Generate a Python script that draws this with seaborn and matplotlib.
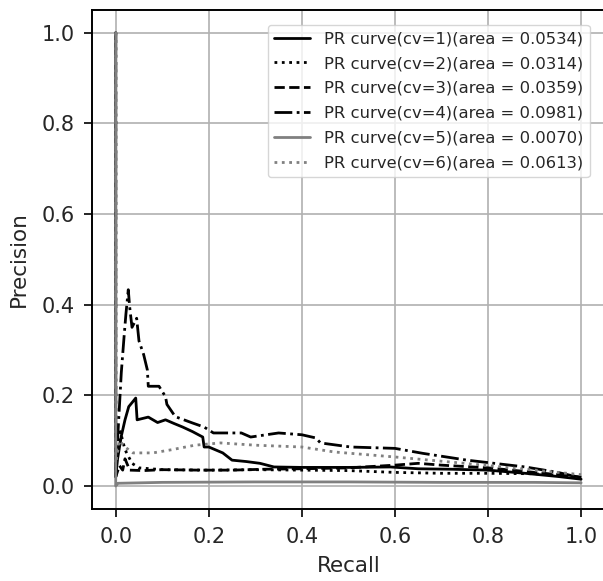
import numpy as np
import pandas as pd
import matplotlib
matplotlib.use("Agg")
import matplotlib.pyplot as plt
import seaborn as sns

# PR curves (recall, precision), one per fold
recall_cv1 = [0.0, 0.0, 0.004, 0.012, 0.020, 0.028, 0.036, 0.043, 0.046, 0.070, 0.090, 0.107,
              0.125, 0.144, 0.165, 0.187, 0.190, 0.200, 0.230, 0.250, 0.280, 0.310, 0.340,
              0.400, 0.500, 0.590, 0.650, 0.720, 0.800, 0.880, 0.950, 1.000]
precision_cv1 = [1.0, 0.02, 0.06, 0.11, 0.146, 0.175, 0.185, 0.194, 0.146, 0.152, 0.140, 0.146,
                 0.138, 0.130, 0.120, 0.108, 0.086, 0.086, 0.073, 0.057, 0.054, 0.050, 0.042,
                 0.041, 0.041, 0.042, 0.038, 0.037, 0.035, 0.028, 0.021, 0.015]

recall_cv2 = [0.0, 0.0, 0.005, 0.010, 0.020, 0.035, 0.050, 0.100, 0.200, 0.300, 0.400,
              0.500, 0.600, 0.700, 0.800, 0.900, 0.950, 1.000]
precision_cv2 = [1.0, 0.03, 0.09, 0.12, 0.08, 0.05, 0.040, 0.036, 0.035, 0.036, 0.035,
                 0.034, 0.030, 0.028, 0.028, 0.027, 0.024, 0.019]

recall_cv3 = [0.0, 0.0, 0.008, 0.015, 0.020, 0.030, 0.060, 0.100, 0.180, 0.250, 0.320,
              0.400, 0.500, 0.600, 0.650, 0.700, 0.800, 0.900, 1.000]
precision_cv3 = [1.0, 0.02, 0.045, 0.035, 0.060, 0.035, 0.034, 0.036, 0.035, 0.035, 0.037,
                 0.038, 0.040, 0.046, 0.050, 0.046, 0.040, 0.030, 0.020]

recall_cv4 = [0.0, 0.0, 0.005, 0.012, 0.018, 0.022, 0.027, 0.030, 0.035, 0.045, 0.050,
              0.060, 0.068, 0.070, 0.093, 0.107, 0.110, 0.128, 0.165, 0.190, 0.210, 0.270,
              0.290, 0.350, 0.400, 0.430, 0.440, 0.505, 0.600, 0.660, 0.755, 0.880, 0.950,
              1.000]
precision_cv4 = [1.0, 0.03, 0.12, 0.25, 0.33, 0.38, 0.433, 0.395, 0.35, 0.37, 0.32,
                 0.29, 0.256, 0.22, 0.22, 0.197, 0.18, 0.153, 0.139, 0.130, 0.117, 0.117,
                 0.108, 0.117, 0.113, 0.106, 0.095, 0.086, 0.083, 0.072, 0.057, 0.042, 0.030,
                 0.018]

recall_cv5 = [0.0, 0.0, 0.005, 0.100, 0.300, 0.500, 0.700, 0.900, 1.000]
precision_cv5 = [1.0, 0.0, 0.006, 0.008, 0.009, 0.009, 0.008, 0.008, 0.007]

recall_cv6 = [0.0, 0.0, 0.008, 0.020, 0.037, 0.080, 0.120, 0.170, 0.225, 0.300, 0.400,
              0.470, 0.600, 0.750, 0.900, 1.000]
precision_cv6 = [1.0, 0.05, 0.10, 0.086, 0.073, 0.073, 0.080, 0.090, 0.095, 0.090, 0.086,
                 0.075, 0.064, 0.050, 0.035, 0.025]

areas = [0.0534, 0.0314, 0.0359, 0.0981, 0.0070, 0.0613]
curves = [(recall_cv1, precision_cv1), (recall_cv2, precision_cv2), (recall_cv3, precision_cv3),
          (recall_cv4, precision_cv4), (recall_cv5, precision_cv5), (recall_cv6, precision_cv6)]
colors = ["black", "black", "black", "black", "gray", "gray"]
styles = ["-", ":", "--", "-.", "-", ":"]

sns.set_style("ticks", {"axes.grid": True, "grid.color": "#b0b0b0",
                        "axes.edgecolor": "black"})
plt.rcParams["font.family"] = ["DejaVu Sans"]

fig = plt.figure(figsize=(6.03, 5.81), dpi=100)
ax = fig.add_axes([0.1533, 0.1245, 0.849, 0.8583])

for i, (rec, prec) in enumerate(curves):
    df = pd.DataFrame({"recall": rec, "precision": prec})
    sns.lineplot(data=df, x="recall", y="precision", sort=False, estimator=None,
                 color=colors[i], linestyle=styles[i], linewidth=2.0,
                 label=f"PR curve(cv={i + 1})(area = {areas[i]:.4f})", ax=ax)

ax.set_xlim(-0.05, 1.05)
ax.set_ylim(-0.05, 1.05)
ax.set_xticks(np.arange(0, 1.01, 0.2))
ax.set_yticks(np.arange(0, 1.01, 0.2))
ax.set_xlabel("Recall", fontsize=15.5, labelpad=7)
ax.set_ylabel("Precision", fontsize=15.5, labelpad=9)
ax.tick_params(labelsize=15, length=6, width=1.2, color="black", pad=7)
for sp in ax.spines.values():
    sp.set_linewidth(1.4)
ax.grid(True, color="#b0b0b0", linewidth=1.2)
ax.legend(loc="upper right", fontsize=11.8, handlelength=2.2,
          labelspacing=0.6, borderaxespad=0.9)

fig.savefig("out.png", dpi=100)
